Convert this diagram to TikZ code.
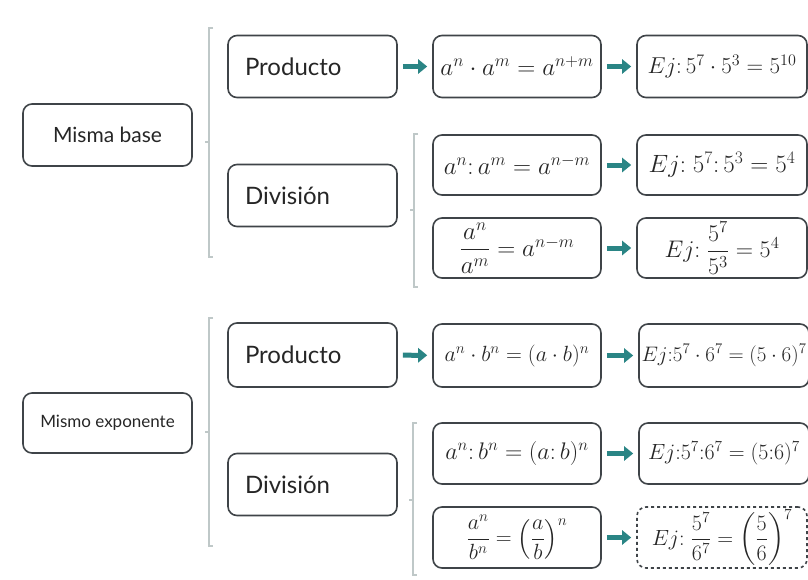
\RequirePackage{fix-cm}
\documentclass[tikz,border=0pt]{standalone}
\usepackage{amsmath,amssymb}
\usepackage{fontspec}
\setmainfont{Lato}
\usepackage{xcolor}
\usetikzlibrary{arrows.meta,positioning,calc}
\definecolor{boxline}{HTML}{3F4448}
\definecolor{arrowteal}{HTML}{2A8585}
\definecolor{bracegray}{HTML}{BFC8C8}
\newcommand{\fsz}[1]{\fontsize{#1}{#1}\selectfont}

\begin{document}
\begin{tikzpicture}[
  x=1pt,y=-1pt,
  card/.style={draw=boxline,line width=1.6pt,rounded corners=9pt,fill=white,
    minimum width=169pt,minimum height=62pt,inner sep=0pt,align=center,
    text=black!85},
  topic/.style={card,font=\fsz{21}},
  case/.style={card,text width=135pt,inner xsep=17pt,align=left,
    font=\fsz{24}},
  rule/.style={card,minimum width=168pt,font=\fsz{25}},
  example/.style={card,minimum width=170pt,font=\fsz{24}},
  flow/.style={draw=arrowteal,line width=5pt,
    -{Triangle[width=14pt,length=9pt]},shorten <=5pt,shorten >=5pt},
  bracket/.style={draw=bracegray,line width=1.3pt}
]
  \useasboundingbox[fill=white] (0,0) rectangle (808,579);

  % first block: misma base
  \node[topic] (same-base) at (107.5,135) {Misma base};
  \node[case] (prod-base) at (312.5,66.5) {Producto};
  \node[case] (div-base) at (312.5,195.5) {División};
  \node[rule] (rule-1) at (517,66.5) {$a^n\cdot a^m=a^{n+m}$};
  \node[example,font=\fsz{23}] (ex-1) at (722,66.5)
    {$Ej{:}\,5^7\cdot 5^3=5^{10}$};
  \node[rule,minimum height=60pt] (rule-2) at (517,165)
    {$a^n{:}\,a^m=a^{n-m}$};
  \node[example,minimum height=60pt,font=\fsz{25}] (ex-2) at (722,165)
    {$Ej{:}\;5^7{:}\,5^3=5^4$};
  \node[rule,minimum height=60pt] (rule-3) at (517,248)
    {$\dfrac{a^n}{a^m}=a^{n-m}$};
  \node[example,minimum height=60pt] (ex-3) at (722,248)
    {$Ej{:}\;\dfrac{5^7}{5^3}=5^4$};

  % second block: mismo exponente
  \node[topic,minimum height=60pt,font=\fsz{17}]
    (same-exp) at (107.5,423) {Mismo exponente};
  \node[case,minimum height=64pt] (prod-exp) at (312.5,355) {Producto};
  \node[case] (div-exp) at (312.5,484.5) {División};
  \node[rule,minimum height=63pt,font=\fsz{22}] (rule-4) at (517,355.5)
    {$a^n\cdot b^n=(a\cdot b)^n$};
  \node[example,minimum height=63pt,font=\fsz{21}]
    (ex-4) at (724,355.5) {$Ej{:}5^7\cdot 6^7=(5\cdot 6)^7$};
  \node[rule,minimum height=61pt,font=\fsz{24}] (rule-5) at (517,453.5)
    {$a^n{:}\,b^n=(a{:}\,b)^n$};
  \node[example,minimum height=61pt,font=\fsz{22}]
    (ex-5) at (724,453.5) {$Ej{:}5^7{:}6^7=(5{:}6)^7$};
  \node[rule,minimum height=61pt,font=\fsz{22}] (rule-6) at (517,537.5)
    {$\dfrac{a^n}{b^n}=\left(\dfrac{a}{b}\right)^n$};
  \node[example,minimum height=61pt,dashed,font=\fsz{22}] (ex-6) at (722,537.5)
    {$Ej{:}\;\dfrac{5^7}{6^7}=\left(\dfrac{5}{6}\right)^7$};

  % brackets
  \foreach \name/\x/\top/\mid/\bot in {b1/209/28/142/257, b2/414/134/210/287,
      b3/209/318/432/546, b4/413/423/500/575}
    \draw[bracket] (\x+4,\top) -- (\x,\top) -- (\x,\bot) -- (\x+4,\bot)
      (\x,\mid) -- (\x-4,\mid);

  % arrows
  \draw[flow] (prod-base) -- (rule-1);
  \draw[flow] (rule-1) -- (ex-1);
  \draw[flow] (rule-2) -- (ex-2);
  \draw[flow] (rule-3) -- (ex-3);
  \draw[flow] (prod-exp) -- (rule-4);
  \draw[flow] (rule-4) -- (ex-4);
  \draw[flow] (rule-5) -- (ex-5);
  \draw[flow] (rule-6) -- (ex-6);
\end{tikzpicture}
\end{document}
